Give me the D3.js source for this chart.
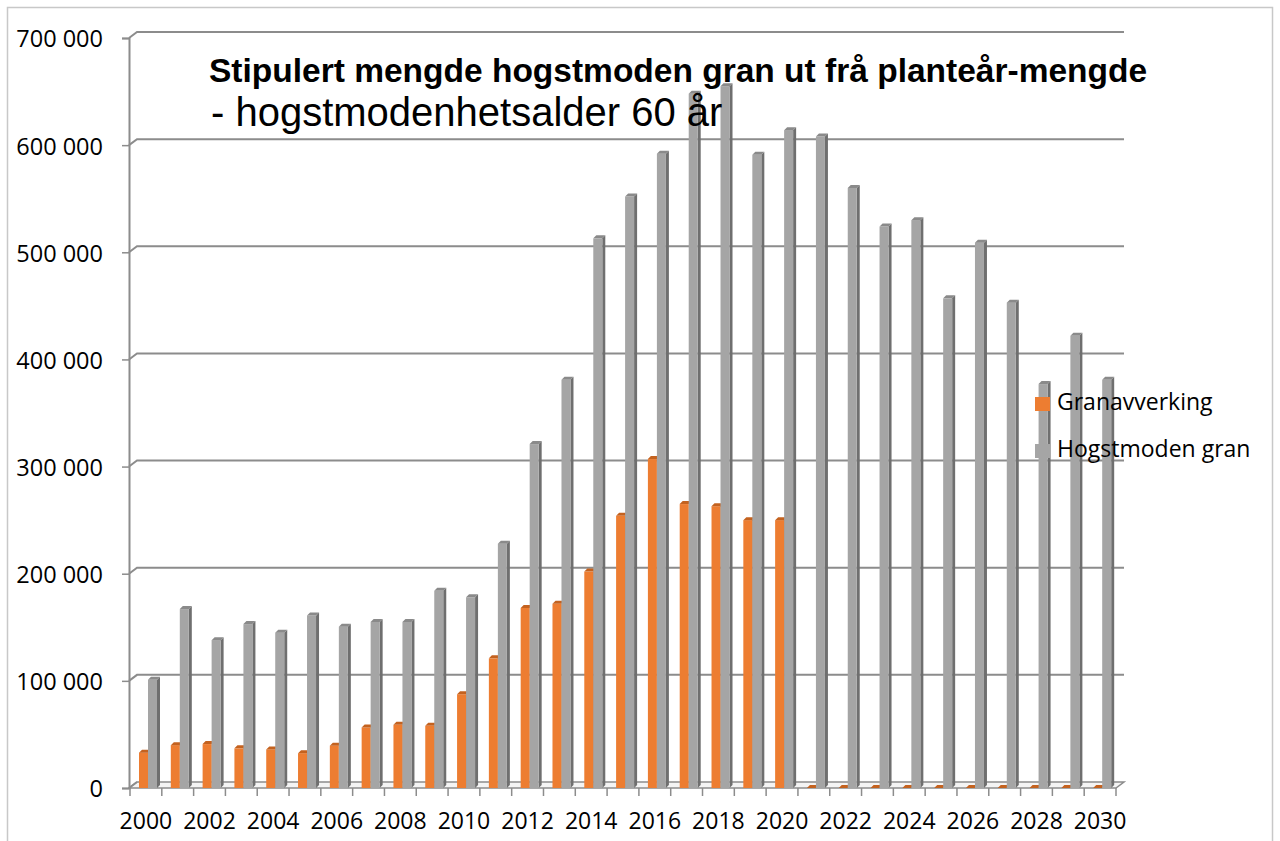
<!DOCTYPE html>
<html>
<head>
<meta charset="utf-8">
<script src="https://cdn.jsdelivr.net/npm/d3@7"></script>
<style>
  body { margin: 0; background: #fff; }
  svg { display: block; font-family: 'Open Sans', sans-serif; }
  svg text { font-family: 'Open Sans', sans-serif; }
  svg text.title { font-family: 'Liberation Sans', Arial, sans-serif; }
</style>
</head>
<body>
<div id="chart"></div>
<script>
// Years on the x axis
var years = ['2000', '2001', '2002', '2003', '2004', '2005', '2006', '2007',
	'2008', '2009', '2010', '2011', '2012', '2013', '2014', '2015', '2016',
	'2017', '2018', '2019', '2020', '2021', '2022', '2023', '2024', '2025',
	'2026', '2027', '2028', '2029', '2030'];
var yearLabels = ['2000', '2002', '2004', '2006', '2008', '2010', '2012',
	'2014', '2016', '2018', '2020', '2022', '2024', '2026', '2028', '2030'];
var yTicks = [0, 100000, 200000, 300000, 400000, 500000, 600000, 700000];

var seriesNames = ['Granavverking', 'Hogstmoden gran'];
var granavverking = [33000, 40000, 41000, 37000, 36000, 32500, 39500, 56500,
	59000, 58000, 87500, 121000, 168000, 172000, 202000, 254000, 307000,
	265000, 263000, 250000, 250000, 0, 0, 0, 0, 0, 0, 0, 0, 0, 0];
var hogstmoden = [101000, 167000, 138000, 153000, 145000, 161000, 150500,
	155000, 155000, 184000, 178000, 228000, 321000, 381000, 513000, 552000,
	592000, 648000, 655000, 591000, 614000, 608000, 560000, 524000, 530000,
	457000, 509000, 453000, 377000, 422000, 381000];

var titleLine1 = 'Stipulert mengde hogstmoden gran ut frå planteår-mengde';
var titleLine2 = '- hogstmodenhetsalder 60 år';

var width = 1280, height = 841;
// depth of the back wall and of the columns (3d look)
var wallDx = 8, wallDy = 6;
var barDx = 3, barDy = 3;

var colors = {
	'Granavverking': {front: '#ed7d31', top: '#c4621f', side: '#b35718'},
	'Hogstmoden gran': {front: '#a5a5a5', top: '#8a8a8a', side: '#6f6f6f'}
};

var svg = d3.select('#chart')
	.append('svg')
	.attr('width', width)
	.attr('height', height);

// outer frame
svg.append('rect')
	.attr('x', 7.5)
	.attr('y', 7.5)
	.attr('width', 1265)
	.attr('height', 860)
	.attr('fill', 'none')
	.attr('stroke', '#c8c8c8')
	.attr('stroke-width', 1.5);

var x = d3.scaleBand()
	.domain(years)
	.range([130, 1116]);
var x1 = d3.scaleBand()
	.domain(seriesNames)
	.range([9, 27]);
var y = d3.scaleLinear()
	.domain([0, 700000])
	.range([788, 38]);

var fmt = d3.formatLocale({decimal: ',', thousands: ' ', grouping: [3]})
	.format(',');

var axisX0 = 129, axisX1 = x.range()[1];
var gridColor = '#8c8c8c';

// floor
svg.append('path')
	.attr('d', 'M' + axisX0 + ',' + y(0) + 'L' + axisX1 + ',' + y(0) +
		'L' + (axisX1 + wallDx) + ',' + (y(0) - wallDy) +
		'L' + (axisX0 + wallDx) + ',' + (y(0) - wallDy) + 'Z')
	.attr('fill', '#f4f4f4')
	.attr('stroke', gridColor)
	.attr('stroke-width', 1.5);

// gridlines on the back wall
svg.append('g')
	.selectAll('path')
	.data(yTicks.filter(function(d) { return d > 0; }))
	.enter()
	.append('path')
	.attr('d', function(d) {
		return 'M' + axisX0 + ',' + y(d) +
			'L' + (axisX0 + wallDx) + ',' + (y(d) - wallDy) +
			'L' + (axisX1 + wallDx) + ',' + (y(d) - wallDy);
	})
	.attr('fill', 'none')
	.attr('stroke', gridColor)
	.attr('stroke-width', 2);

svg.append('path')
	.attr('d', 'M' + axisX0 + ',' + y(0) + 'L' + (axisX0 + wallDx) + ',' +
		(y(0) - wallDy))
	.attr('stroke', gridColor)
	.attr('stroke-width', 2);

// y axis
svg.append('g')
	.attr('class', 'y axis')
	.attr('transform', 'translate(' + axisX0 + ',0)')
	.call(d3.axisLeft(y).tickValues(yTicks).tickSize(7).tickPadding(19)
		.tickFormat(fmt))
	.call(function(g) {
		g.attr('font-family', null);
		g.select('.domain').attr('stroke', gridColor).attr('stroke-width', 2);
		g.selectAll('.tick line').attr('stroke', gridColor)
			.attr('stroke-width', 1.5);
		g.selectAll('text')
			.style('font-size', '23.5px')
			.attr('fill', '#000')
			.attr('dy', '0.38em');
	});

// x axis: ticks between the years, labels under every second year
var boundaries = years.map(function(d) { return x(d); }).concat([axisX1]);
svg.append('g')
	.selectAll('line')
	.data(boundaries)
	.enter()
	.append('line')
	.attr('x1', function(d) { return d; })
	.attr('x2', function(d) { return d; })
	.attr('y1', y(0))
	.attr('y2', y(0) + 8)
	.attr('stroke', gridColor)
	.attr('stroke-width', 1.5);

svg.append('g')
	.attr('class', 'x axis')
	.attr('transform', 'translate(0,' + y(0) + ')')
	.call(d3.axisBottom(x).tickValues(yearLabels).tickSize(0)
		.tickPadding(25))
	.call(function(g) {
		g.attr('font-family', null);
		g.select('.domain').remove();
		g.selectAll('text')
			.style('font-size', '23px')
			.attr('fill', '#000');
	});

// 3d columns
var bars = [];
years.forEach(function(yr, i) {
	bars.push({year: yr, key: seriesNames[0], value: granavverking[i]});
	bars.push({year: yr, key: seriesNames[1], value: hogstmoden[i]});
});

var w = x1.bandwidth();
var col = svg.append('g')
	.selectAll('g')
	.data(bars)
	.enter()
	.append('g')
	.attr('transform', function(d) {
		return 'translate(' + (x(d.year) + x1(d.key)) + ',0)';
	});

col.append('path')
	.attr('d', function(d) {
		var t = y(d.value), b = y(0);
		return 'M' + w + ',' + t + 'L' + (w + barDx) + ',' + (t - barDy) +
			'L' + (w + barDx) + ',' + (b - barDy) + 'L' + w + ',' + b + 'Z';
	})
	.attr('fill', function(d) { return colors[d.key].side; });

col.append('rect')
	.attr('x', 0)
	.attr('width', w)
	.attr('y', function(d) { return y(d.value); })
	.attr('height', function(d) { return y(0) - y(d.value); })
	.attr('fill', function(d) { return colors[d.key].front; });

col.append('path')
	.attr('d', function(d) {
		var t = y(d.value);
		return 'M0,' + t + 'L' + barDx + ',' + (t - barDy) +
			'L' + (w + barDx) + ',' + (t - barDy) + 'L' + w + ',' + t + 'Z';
	})
	.attr('fill', function(d) { return colors[d.key].top; });

// title
svg.append('text')
	.attr('class', 'title')
	.attr('x', 209)
	.attr('y', 82)
	.style('font-size', '33.5px')
	.style('font-weight', 'bold')
	.text(titleLine1);
svg.append('text')
	.attr('class', 'title')
	.attr('x', 211)
	.attr('y', 126)
	.style('font-size', '40px')
	.text(titleLine2);

// legend
var legend = svg.selectAll('.legend')
	.data(seriesNames)
	.enter()
	.append('g')
	.attr('class', 'legend')
	.attr('transform', function(d, i) {
		return 'translate(1035,' + (397 + i * 47) + ')';
	});
legend.append('rect')
	.attr('width', 15)
	.attr('height', 14)
	.attr('fill', function(d) { return colors[d].front; });
legend.append('text')
	.attr('x', 22)
	.attr('y', 13)
	.style('font-size', '23px')
	.text(function(d) { return d; });
</script>
</body>
</html>
